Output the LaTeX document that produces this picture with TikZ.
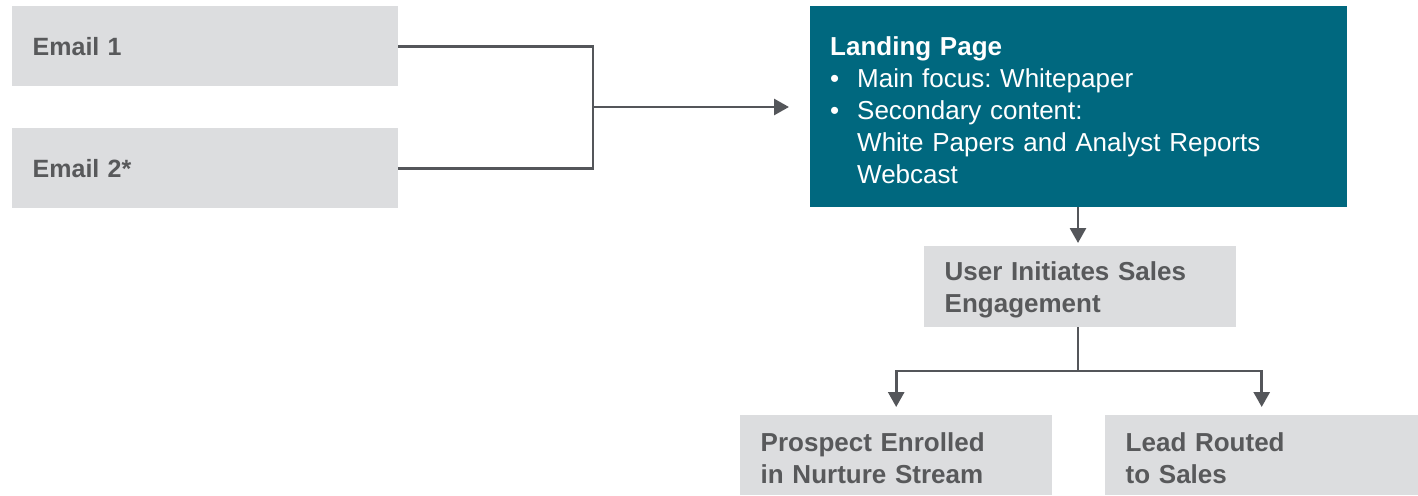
\documentclass[tikz,border=0pt]{standalone}
\usepackage{fontspec}
\setmainfont{Liberation Sans}
\usetikzlibrary{arrows.meta}
\frenchspacing
\definecolor{boxgray}{RGB}{220,221,223}
\definecolor{txtgray}{RGB}{88,89,91}
\definecolor{linegray}{RGB}{84,86,90}
\definecolor{tealc}{RGB}{0,104,127}
\newcommand{\tstrut}{\rule{0pt}{25pt}}
\tikzset{
  graybox/.style={anchor=north west, fill=boxgray, text=txtgray, inner xsep=20.5pt, inner ysep=0pt,
    align=left, font=\bfseries\fontsize{26}{32}\selectfont},
  emailbox/.style={graybox, minimum width=386pt, text width=345pt, minimum height=80pt,
    font=\bfseries\fontsize{25}{30}\selectfont},
  tealbox/.style={anchor=north west, fill=tealc, text=white, inner xsep=20pt, inner ysep=0pt,
    align=left, minimum width=537pt, text width=497pt, minimum height=201pt,
    font=\fontsize{26}{32}\selectfont},
  conn/.style={draw=linegray, line width=2.8pt, line join=miter},
  arr/.style={conn, -{Triangle[length=15pt,width=16pt]}}
}
\begin{document}
\begin{tikzpicture}[x=1pt,y=-1pt]
\useasboundingbox (0,0) rectangle (1418,495);
\node[emailbox] (e1) at (12,6) {Email 1};
\node[emailbox] (e2) at (12,128) {Email 2*};
\node[tealbox] (lp) at (810,6) {\tstrut\textbf{Landing Page}\\
  \makebox[27pt][l]{\textbullet}Main focus: Whitepaper\\
  \makebox[27pt][l]{\textbullet}Secondary content:\\
  \hspace*{27pt}White Papers and Analyst Reports\\
  \hspace*{27pt}Webcast};
\node[graybox, minimum width=312pt, text width=271pt, minimum height=81pt] (ui) at (924,246)
  {\tstrut User Initiates Sales\\Engagement};
\node[graybox, minimum width=312pt, text width=271pt, minimum height=80pt] (pe) at (740,415)
  {\tstrut Prospect Enrolled\\in Nurture Stream};
\node[graybox, minimum width=313pt, text width=272pt, minimum height=80pt] (lr) at (1105,415)
  {\tstrut Lead Routed\\to Sales};
\coordinate (j) at (593,107);
\coordinate (b) at (1078,371);
\draw[conn] (e1.east) -| (j);
\draw[conn] (e2.east) -| (j);
\draw[arr, shorten >=21pt] (j) -- (lp.west |- j);
\draw[arr, shorten >=3pt] (lp.south -| b) -- (ui.north -| b);
\draw[conn] (ui.south -| b) -- (b);
\draw[arr, shorten >=8pt] (b) -| (pe.north);
\draw[arr, shorten >=8pt] (b) -| (lr.north);
\end{tikzpicture}
\end{document}
